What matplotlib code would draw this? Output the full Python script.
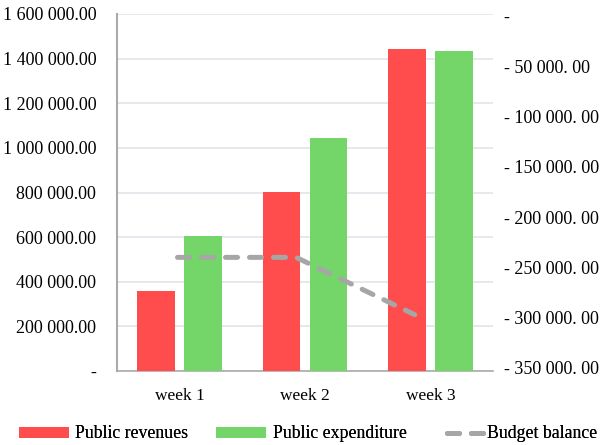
import matplotlib
matplotlib.use("Agg")
import matplotlib.pyplot as plt
from matplotlib.ticker import FixedLocator, FuncFormatter
import numpy as np

categories = ["week 1", "week 2", "week 3"]
revenues = [360000, 802000, 1443000]
expenditure = [605000, 1044000, 1434000]
balance = [-240000, -240000, -297000]
left_ticks = [0, 200000, 400000, 600000, 800000, 1000000, 1200000, 1400000, 1600000]
right_ticks = [0, -50000, -100000, -150000, -200000, -250000, -300000, -350000]

RED = "#FF4D4D"
GREEN = "#74D568"
GRAY = "#A6A6A6"

plt.rcParams["font.family"] = ["Liberation Serif", "DejaVu Serif"]
FS = 13
FSX = 12.5
FSL = 12.8

fig = plt.figure(figsize=(6.04, 4.45), dpi=100)
pos = [117/604, 1-371/445, (493-117)/604, (371-14)/445]
ax = fig.add_axes(pos)

x = np.arange(len(categories))
w = 0.303
off = 0.1875
b1 = ax.bar(x - off, revenues, w, color=RED, label="Public revenues", zorder=3)
b2 = ax.bar(x + off, expenditure, w, color=GREEN, label="Public expenditure", zorder=3)
ax.set_xlim(-0.5, 2.5)
ax.set_ylim(0, 1600000)
ax.yaxis.set_major_locator(FixedLocator(left_ticks))

def lfmt(v, p):
    if v == 0:
        return "-"
    s = f"{int(v):,}".replace(",", " ")
    return s + ".00"
ax.yaxis.set_major_formatter(FuncFormatter(lfmt))
ax.set_xticks(x)
ax.set_xticklabels(categories)
ax.tick_params(axis="y", length=0, pad=15, labelsize=FS)
ax.tick_params(axis="x", length=0, pad=12, labelsize=FSX)
ax.grid(axis="y", color="#E0E4EA", linewidth=1.2, zorder=0)
ax.set_axisbelow(True)
for s in ["top", "right"]:
    ax.spines[s].set_visible(False)
ax.spines["left"].set_color("#AAAAAA")
ax.spines["left"].set_linewidth(1.5)
ax.spines["bottom"].set_color("#AAAAAA")
ax.spines["bottom"].set_linewidth(1.2)

ax2 = fig.add_axes(pos, frameon=False)
ln, = ax2.plot(np.arange(len(balance)), balance, color=GRAY, linewidth=3.6,
               linestyle=(0, (2.4, 2.4)), dash_capstyle="round", label="Budget balance",
               zorder=4)
ax2.set_xlim(-0.51, 2.66)
ax2.set_ylim(-353000, 2000)
ax2.xaxis.set_visible(False)
ax2.yaxis.tick_right()
ax2.yaxis.set_major_locator(FixedLocator(right_ticks))

def rfmt(v, p):
    if v == 0:
        return "-"
    s = f"{int(abs(v)):,}".replace(",", " ")
    return "- " + s + ". 00"
ax2.yaxis.set_major_formatter(FuncFormatter(rfmt))
ax2.tick_params(axis="y", length=0, pad=7.6, labelsize=FS)

em = FSL * 100 / 72.0
ly = 1 - 434 / 445
entries = [(b1, "Public revenues", 19, 50, 6),
           (b2, "Public expenditure", 216, 50, 7),
           (ln, "Budget balance", 447, 38, 2)]
for h, lab, x0, hl, tp in entries:
    leg = fig.legend([h], [lab], loc="center left", bbox_to_anchor=(x0/604, ly),
                     frameon=False, fontsize=FSL, handlelength=hl/em,
                     handleheight=10/em, handletextpad=tp/em,
                     borderpad=0, borderaxespad=0)
    fig.add_artist(leg)

fig.savefig("out.png", dpi=100)
